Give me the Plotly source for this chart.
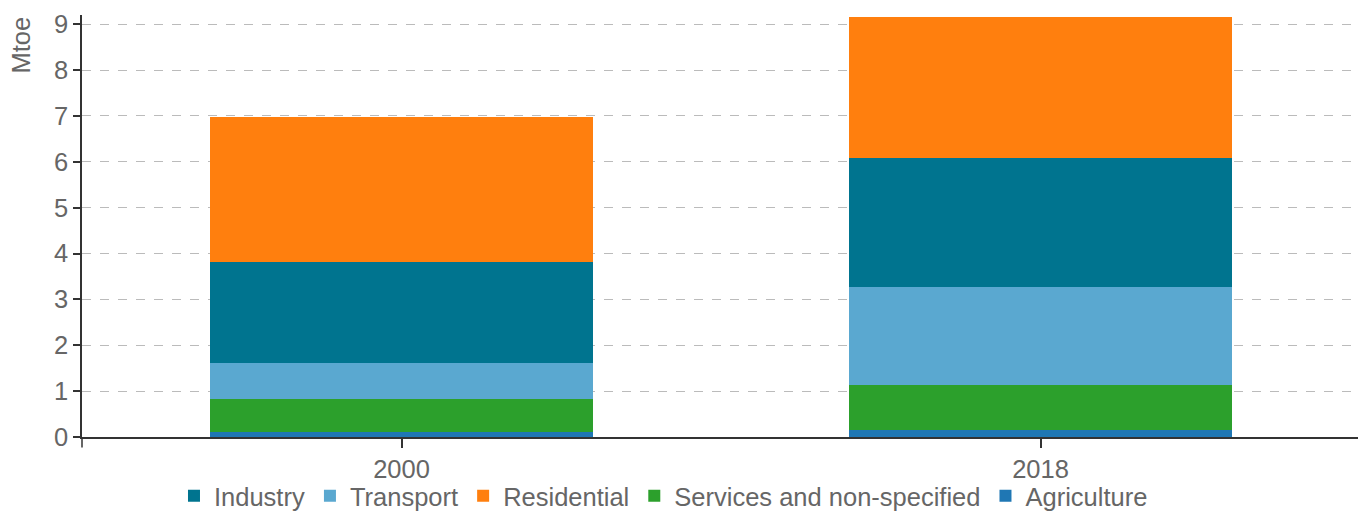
import plotly.graph_objects as go

years = ["2000", "2018"]
agriculture = [0.10, 0.16]
services = [0.73, 0.97]
transport = [0.79, 2.15]
industry = [2.20, 2.81]
residential = [3.16, 3.06]

y_ticks = [0, 1, 2, 3, 4, 5, 6, 7, 8, 9]

series = [
    ("Agriculture", agriculture, "#1F77B4", 5),
    ("Services and non-specified", services, "#2CA02C", 4),
    ("Transport", transport, "#5AA8D0", 2),
    ("Industry", industry, "#00748F", 1),
    ("Residential", residential, "#FF7F0E", 3),
]

fig = go.Figure()
for name, vals, color, rank in series:
    fig.add_trace(go.Bar(
        x=years, y=vals, name=name, marker_color=color,
        marker_line_width=0, legendrank=rank, width=0.6,
    ))

font_fam = "Liberation Sans, Arial, sans-serif"
gray = "#666666"
fs = 25.5

fig.update_layout(
    barmode="stack",
    autosize=False,
    width=1358, height=506,
    margin=dict(l=74, r=6, t=7, b=77, autoexpand=False),
    plot_bgcolor="white", paper_bgcolor="white",
    font=dict(family=font_fam, size=fs, color=gray),
    showlegend=True,
    legend=dict(orientation="h", x=0.455, xanchor="center", y=-0.14, yanchor="middle",
                font=dict(size=fs, color=gray), itemwidth=30, traceorder="normal",
                tracegroupgap=0, bgcolor="rgba(0,0,0,0)"),
    xaxis=dict(
        type="category", showline=True, linecolor="#333333", linewidth=1.5,
        ticks="outside", ticklen=9, tickcolor="#333333", tickwidth=1.5,
        showgrid=False, tickfont=dict(size=fs, color=gray), automargin=False,
    ),
    yaxis=dict(
        range=[0, 9.2], tickvals=y_ticks, showline=True, linecolor="#333333", linewidth=1.5,
        ticks="outside", ticklen=7, tickcolor="#333333", tickwidth=1.5,
        showgrid=True, gridcolor="#BBBBBB", griddash="dash", gridwidth=1,
        zeroline=False, tickfont=dict(size=fs, color=gray), automargin=False,
    ),
    annotations=[dict(
        text="Mtoe", xref="paper", yref="paper", x=-0.0485, y=1.0,
        xanchor="center", yanchor="top", textangle=-90, showarrow=False,
        font=dict(size=fs, color=gray),
    )],
    shapes=[
        dict(type="line", xref="paper", yref="paper", x0=1, x1=1, y0=0, y1=-0.025,
             line=dict(color="#333333", width=1.5)),
        dict(type="line", xref="paper", yref="paper", x0=0, x1=0, y0=0, y1=-0.025,
             line=dict(color="#333333", width=1.5)),
    ],
)

fig.write_html("out.html")
